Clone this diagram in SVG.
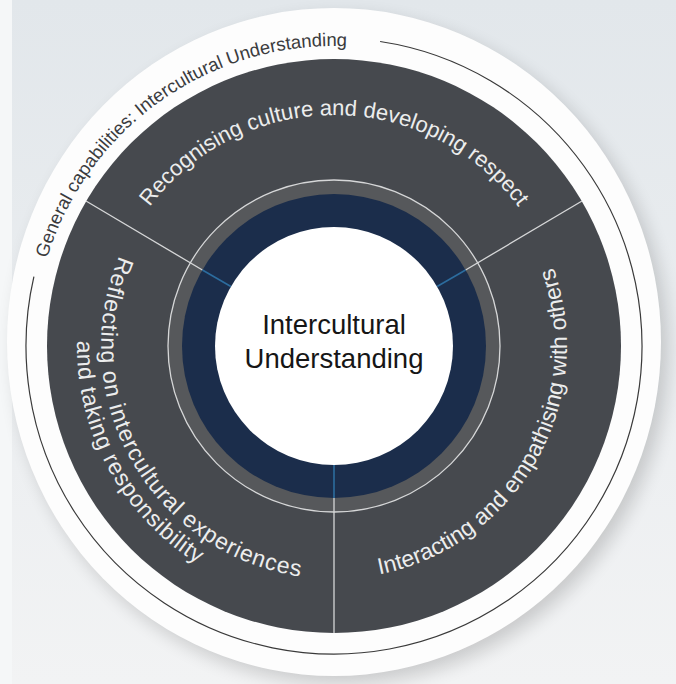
<svg xmlns="http://www.w3.org/2000/svg" width="676" height="684" viewBox="0 0 676 684">
  <defs>
    <linearGradient id="bgGrad" x1="0" y1="0" x2="0" y2="1">
      <stop offset="0" stop-color="#e2e7eb"/>
      <stop offset="1" stop-color="#f2f3f4"/>
    </linearGradient>
    <filter id="softShadow" x="-20%" y="-20%" width="140%" height="140%">
      <feGaussianBlur stdDeviation="9"/>
    </filter>
    <!-- baseline paths for curved labels, all centred on (334,346) -->
    <path id="pOuter" d="M 34,346 A 300 300 0 0 1 634,346"/>
    <path id="pTop" d="M 103,346 A 231 231 0 0 1 565,346"/>
    <path id="pLeft1" d="M 334,113 A 233 233 0 0 0 334,579"/>
    <path id="pLeft2" d="M 334,89 A 257 257 0 0 0 334,603"/>
    <path id="pRight" d="M 334,579 A 233 233 0 0 0 334,113"/>
  </defs>
  <style>
    .sector { fill: #46494e; }
    .divider { stroke: #d6d7d8; stroke-width: 1.3; fill: none; }
    .core-divider { stroke: #2c6c9e; stroke-width: 1.6; fill: none; }
    .label { font-family: "Liberation Sans", Arial, sans-serif; fill: #eceded; }
    .outer-label { font-family: "Liberation Sans", Arial, sans-serif; font-size: 18.5px; fill: #3a3b3d; }
    .core-label { font-family: "Liberation Sans", Arial, sans-serif; font-size: 27.5px; fill: #161616; text-anchor: middle; }
  </style>

  <!-- backdrop -->
  <rect x="0" y="0" width="676" height="684" fill="url(#bgGrad)"/>
  <rect x="0" y="0" width="12" height="684" fill="#f5f7f8"/>

  <!-- white plate with soft drop shadow -->
  <ellipse cx="341" cy="350" rx="327" ry="334" fill="#000" opacity="0.16" filter="url(#softShadow)"/>
  <ellipse cx="334" cy="342" rx="327" ry="334" fill="#fdfdfd"/>

  <!-- outer frame arc and its caption -->
  <g id="frame">
    <path d="M 380.1,41.5 A 308 308 0 1 1 33.9,276.7" fill="none" stroke="#3a3a3a" stroke-width="1.2"/>
    <text class="outer-label"><textPath href="#pOuter" startOffset="30.4%" text-anchor="middle">General capabilities: Intercultural Understanding</textPath></text>
  </g>

  <!-- dark wheel -->
  <circle id="wheel" class="sector" cx="334" cy="346" r="287"/>

  <!-- inner rings -->
  <g id="rings">
    <circle cx="334" cy="346" r="166" fill="#56585b"/>
    <circle cx="334" cy="346" r="166" fill="none" stroke="#d6d7d8" stroke-width="1.3"/>
    <circle cx="334" cy="346" r="152" fill="#1b2d4b"/>
  </g>

  <!-- sector dividers -->
  <g id="connectors">
    <line class="divider" x1="202.4" y1="270" x2="86" y2="201"/>
    <line class="divider" x1="465.6" y1="270" x2="582" y2="201"/>
    <line class="divider" x1="334" y1="498" x2="334" y2="633"/>
    <line class="core-divider" x1="230.9" y1="286.5" x2="202.4" y2="270"/>
    <line class="core-divider" x1="437.1" y1="286.5" x2="465.6" y2="270"/>
    <line class="core-divider" x1="334" y1="465" x2="334" y2="498"/>
  </g>

  <!-- sectors -->
  <g id="recognising">
    <text class="label" font-size="22"><textPath href="#pTop" startOffset="50%" text-anchor="middle">Recognising culture and developing respect</textPath></text>
  </g>
  <g id="reflecting">
    <text class="label" font-size="23" letter-spacing="0.9"><textPath href="#pLeft1" startOffset="66.4%" text-anchor="middle">Reflecting on intercultural experiences</textPath></text>
    <text class="label" font-size="23" letter-spacing="0.8"><textPath href="#pLeft2" startOffset="65.8%" text-anchor="middle">and taking responsibility</textPath></text>
  </g>
  <g id="interacting">
    <text class="label" font-size="23"><textPath href="#pRight" startOffset="33.6%" text-anchor="middle">Interacting and empathising with others</textPath></text>
  </g>

  <!-- hub -->
  <g id="hub">
    <circle cx="334" cy="346" r="119" fill="#ffffff"/>
    <text class="core-label" x="334" y="334">Intercultural</text>
    <text class="core-label" x="334" y="368">Understanding</text>
  </g>
</svg>
